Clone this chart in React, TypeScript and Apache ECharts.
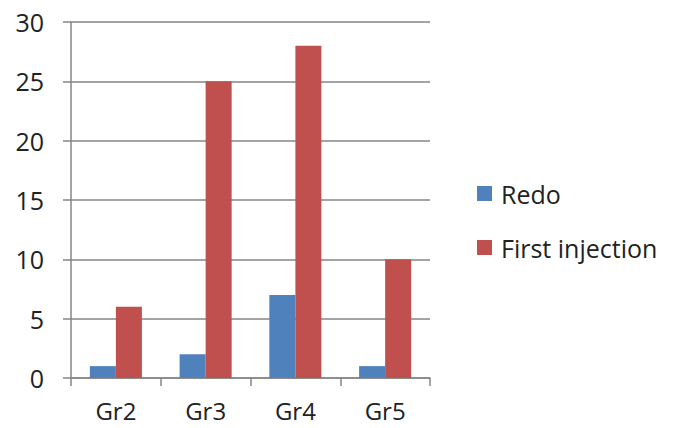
import React, { useEffect, useRef } from "react";
import * as echarts from "echarts";

const categories = ["Gr2", "Gr3", "Gr4", "Gr5"];
const redo = [1, 2, 7, 1];
const firstInjection = [6, 25, 28, 10];
const seriesNames = ["Redo", "First injection"];

export default function App() {
  const ref = useRef<HTMLDivElement>(null);
  useEffect(() => {
    if (!ref.current) return;
    const chart = echarts.init(ref.current, null, { renderer: "svg" });
    const font = "'Open Sans', 'Liberation Sans', sans-serif";
    chart.setOption({
      animation: false,
      grid: { left: 71, right: 245, top: 22, bottom: 50, containLabel: false },
      legend: {
        orient: "vertical",
        left: 477,
        top: 181,
        padding: 0,
        itemWidth: 15,
        itemHeight: 15,
        itemGap: 29,
        icon: "rect",
        textStyle: { fontSize: 25, color: "#222", fontFamily: font, padding: [0, 0, 0, 4] },
        data: seriesNames,
      },
      xAxis: {
        type: "category",
        data: categories,
        axisLine: { lineStyle: { color: "#868686", width: 1.5 } },
        axisTick: { show: true, length: 8, lineStyle: { color: "#868686", width: 1.5 } },
        axisLabel: { fontSize: 24, color: "#222", fontFamily: font, margin: 20 },
      },
      yAxis: {
        type: "value",
        min: 0,
        max: 30,
        interval: 5,
        axisLine: { show: true, lineStyle: { color: "#868686", width: 1.5 } },
        axisTick: { show: true, length: 8, lineStyle: { color: "#868686", width: 1.5 } },
        splitLine: { lineStyle: { color: "#868686", width: 1.5 } },
        axisLabel: { fontSize: 25, color: "#222", fontFamily: font, margin: 27 },
      },
      series: [
        {
          name: seriesNames[0],
          type: "bar",
          data: redo,
          itemStyle: { color: "#4F81BD" },
          barGap: "0%",
          barCategoryGap: "42%",
        },
        {
          name: seriesNames[1],
          type: "bar",
          data: firstInjection,
          itemStyle: { color: "#C0504D" },
          barGap: "0%",
          barCategoryGap: "42%",
        },
      ],
    });
    return () => chart.dispose();
  }, []);
  return <div ref={ref} style={{ width: 675, height: 428, position: "absolute", left: 0, top: 0 }} />;
}
